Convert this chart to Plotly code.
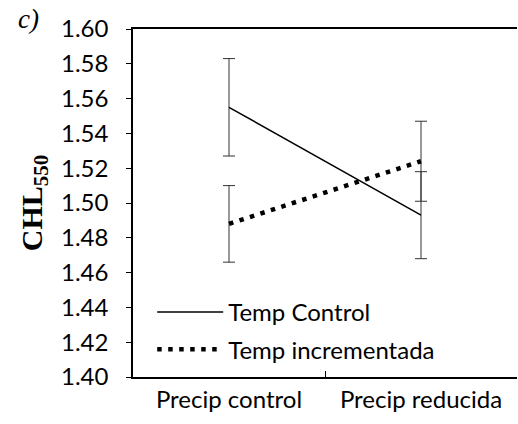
import plotly.graph_objects as go

categories = ["Precip control", "Precip reducida"]
temp_control = [1.555, 1.493]
temp_control_err = [0.028, 0.025]
temp_incr = [1.488, 1.524]
temp_incr_err = [0.022, 0.023]
y_ticks = [1.40, 1.42, 1.44, 1.46, 1.48, 1.50, 1.52, 1.54, 1.56, 1.58, 1.60]

FONT = "Lato"
SIZE = 24
fig = go.Figure()
fig.add_trace(go.Scatter(
    x=categories, y=temp_control, mode="lines", name="Temp Control",
    line=dict(color="black", width=1.5),
    error_y=dict(type="data", array=temp_control_err, visible=True,
                 color="#333333", thickness=1, width=6),
    legendgroup="a",
))
fig.add_trace(go.Scatter(
    x=categories, y=temp_incr, mode="lines", name="Temp incrementada",
    line=dict(color="black", width=4.5, dash="4.5px,6.5px"),
    error_y=dict(type="data", array=temp_incr_err, visible=True,
                 color="#333333", thickness=1, width=6),
    legendgroup="b",
))

fig.update_layout(
    width=518, height=424,
    margin=dict(l=133, r=1, t=29, b=47),
    paper_bgcolor="white", plot_bgcolor="white",
    font=dict(family=FONT, size=SIZE, color="black"),
    showlegend=True,
    legend=dict(x=0.05, y=0.25, xanchor="left", yanchor="top",
                bgcolor="rgba(0,0,0,0)", tracegroupgap=3, itemwidth=66,
                font=dict(family=FONT, size=SIZE)),
    xaxis=dict(
        type="category", range=[-0.5, 1.5],
        showline=True, linecolor="black", linewidth=1.5, mirror=True,
        ticks="inside", ticklen=6, tickcolor="black", tickson="boundaries",
        showgrid=False, ticklabelstandoff=0,
        tickfont=dict(family=FONT, size=SIZE),
    ),
    yaxis=dict(
        range=[1.40, 1.60], tickvals=y_ticks,
        tickformat=".2f",
        showline=True, linecolor="black", linewidth=1.5,
        ticks="outside", ticklen=5, tickcolor="black",
        showgrid=False, zeroline=False, ticklabelstandoff=13,
        tickfont=dict(family=FONT, size=SIZE),
        title=dict(text="<b>CHL<sub>550</sub></b>", standoff=10,
                   font=dict(family="Liberation Serif", size=30)),
    ),
    annotations=[dict(
        text="<i>c)</i>", xref="paper", yref="paper", x=-0.273, y=1.03,
        xanchor="center", yanchor="middle", showarrow=False,
        font=dict(family="Liberation Serif", size=27),
    )],
)
fig.write_html("out.html")
